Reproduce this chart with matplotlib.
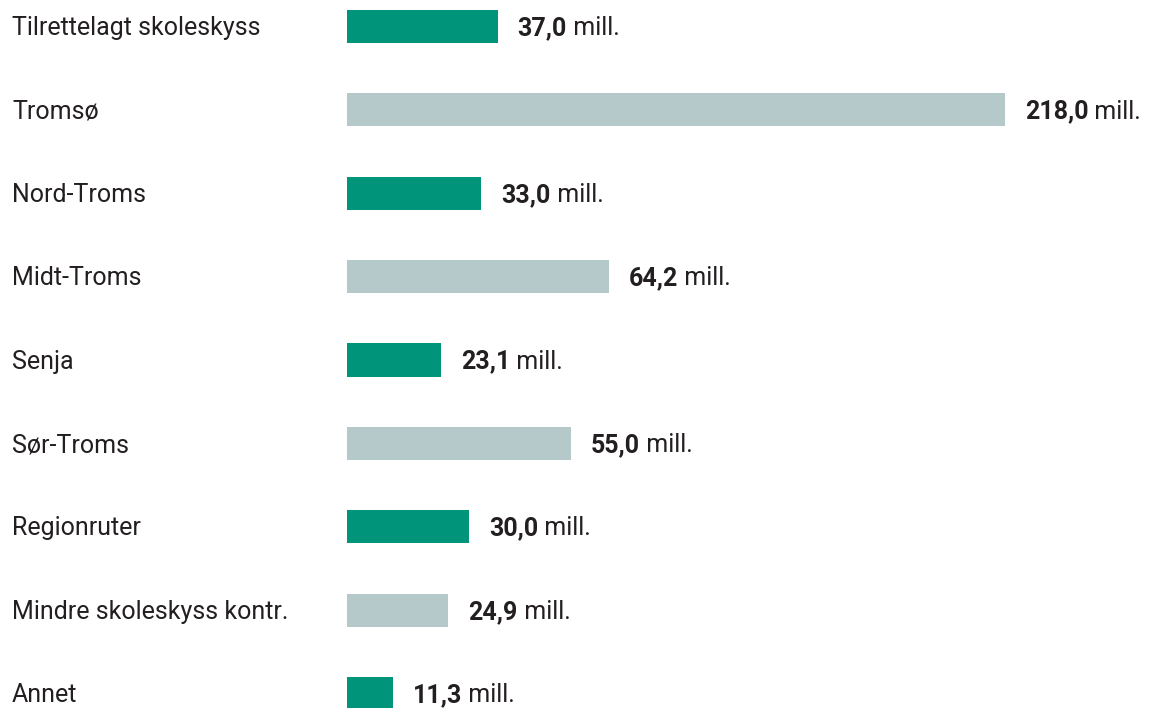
import matplotlib.pyplot as plt

categories = ["Tilrettelagt skoleskyss", "Tromsø", "Nord-Troms", "Midt-Troms", "Senja",
              "Sør-Troms", "Regionruter", "Mindre skoleskyss kontr.", "Annet"]
values = [37.0, 218.0, 33.0, 64.2, 23.1, 55.0, 30.0, 24.9, 11.3]
labels = ["37,0", "218,0", "33,0", "64,2", "23,1", "55,0", "30,0", "24,9", "11,3"]

green = "#00957a"
grey = "#b6c9ca"
txt = "#231f20"
xmax = 161.5  # axis is cut here, Tromsø bar is truncated
fs = 18

plt.rcParams['font.family'] = ['Roboto', 'DejaVu Sans']

fig = plt.figure(figsize=(11.6, 7.08), dpi=100)
ax_left = 347 / 1160
ax_w = (1005 - 347) / 1160
ax = fig.add_axes([ax_left, 0, ax_w, 1])

y = list(range(len(categories)))
colors = [green if i % 2 == 0 else grey for i in y]
shown = [min(v, xmax) for v in values]
ax.barh(y, shown, height=0.396, color=colors)

ax.set_xlim(0, xmax)
ax.set_ylim(8 + 14.5 / 83.4, -26.5 / 83.4)
ax.axis('off')

# category names at 12 px from the left edge of the figure
for i, cat in enumerate(categories):
    ax.text((12 / 1160 - ax_left) / ax_w, i + 0.02, cat, transform=ax.get_yaxis_transform(),
            fontsize=fs, color=txt, va='center', ha='left', clip_on=False)

for i, (v, lab) in enumerate(zip(shown, labels)):
    b = ax.annotate(lab, xy=(v, i + 0.02), xytext=(14.4, 0), textcoords='offset points',
                    fontsize=fs, fontweight='bold', color=txt, va='center', ha='left',
                    annotation_clip=False)
    ax.annotate(" mill.", xy=(1, 0), xycoords=b, fontsize=fs, color=txt,
                va='bottom', ha='left', annotation_clip=False)

fig.savefig("out.png", dpi=100)
